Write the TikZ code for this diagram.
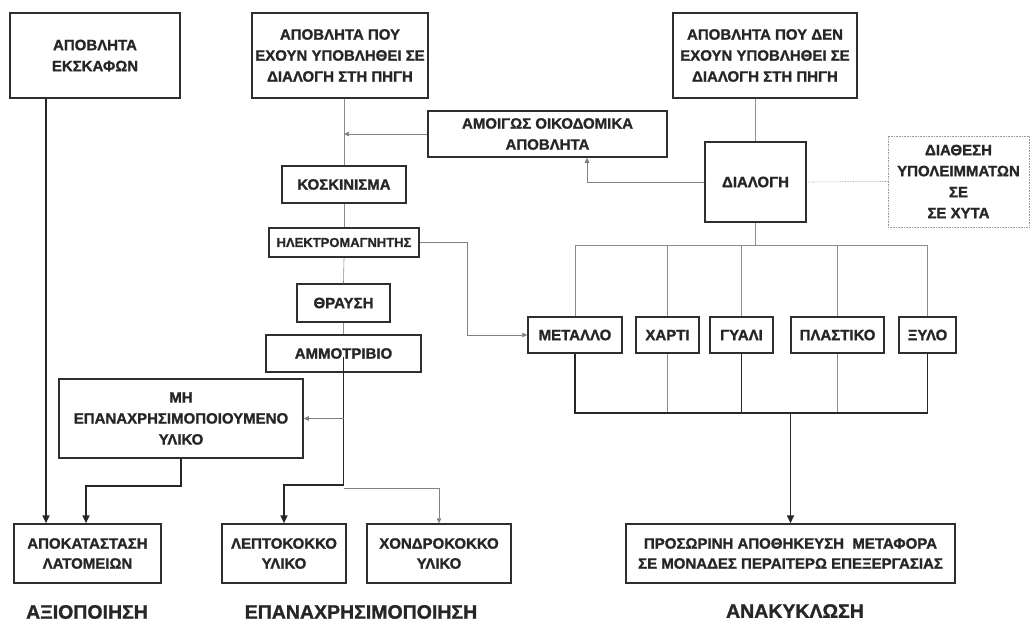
\documentclass[tikz,border=0pt]{standalone}
\usepackage{fontspec}
\setmainfont{Liberation Sans}[BoldFeatures={FakeBold=1.2}]
\usetikzlibrary{arrows.meta,calc}
\newcommand\fs{\fontsize{15}{21}\selectfont\bfseries}
\newcommand\fss{\fontsize{13}{16}\selectfont\bfseries}
\newcommand\fsb{\fontsize{15}{20}\selectfont\bfseries}
\newcommand\fl{\fontsize{19.5}{22}\selectfont\bfseries}
\tikzset{
  box/.style={draw=black!82, line width=1.5pt, inner sep=0pt, align=center, font=\fs, text=black!85},
  dim/.style 2 args={minimum width=#1, minimum height=#2},
  dotbox/.style={draw=black!40, line width=0.6pt, densely dotted, inner sep=0pt, align=center, font=\fs, text=black!85},
  lbl/.style={font=\fl, text=black!85, inner sep=0pt},
  thk/.style={line width=1.6pt, draw=black!85},
  thn/.style={line width=0.6pt, draw=black!45},
  ak/.style={-{Triangle[length=8pt,width=7pt]}},
  an/.style={-{Triangle[length=5pt,width=4.5pt]}, draw=black!50},
}
\begin{document}
\begin{tikzpicture}[x=1pt,y=-1pt]
\useasboundingbox (0,0) rectangle (1030,623);
% boxes
\node[box,dim={170pt}{85pt}] (exc) at (95,55.5) {ΑΠΟΒΛΗΤΑ\\ΕΚΣΚΑΦΩΝ};
\node[box,dim={176pt}{85pt}] (src) at (340,55.5) {ΑΠΟΒΛΗΤΑ ΠΟΥ\\ΕΧΟΥΝ ΥΠΟΒΛΗΘΕΙ ΣΕ\\ΔΙΑΛΟΓΗ ΣΤΗ ΠΗΓΗ};
\node[box,dim={184pt}{85pt}] (nosrc) at (765,55.5) {ΑΠΟΒΛΗΤΑ ΠΟΥ ΔΕΝ\\ΕΧΟΥΝ ΥΠΟΒΛΗΘΕΙ ΣΕ\\ΔΙΑΛΟΓΗ ΣΤΗ ΠΗΓΗ};
\node[box,dim={239pt}{46pt}] (amoi) at (547.5,134) {ΑΜΟΙΓΩΣ ΟΙΚΟΔΟΜΙΚΑ\\ΑΠΟΒΛΗΤΑ};
\node[box,dim={101pt}{80pt}] (dial) at (755.5,182) {ΔΙΑΛΟΓΗ};
\node[dotbox,dim={141pt}{91pt}] (diath) at (958.5,181.5) {ΔΙΑΘΕΣΗ\\ΥΠΟΛΕΙΜΜΑΤΩΝ\\ΣΕ\\ΣΕ ΧΥΤΑ};
\node[box,dim={124pt}{37pt}] (kosk) at (344,184.5) {ΚΟΣΚΙΝΙΣΜΑ};
\node[box,dim={150pt}{29pt},font=\fss] (ilek) at (344,242.5) {ΗΛΕΚΤΡΟΜΑΓΝΗΤΗΣ};
\node[box,dim={93pt}{38pt}] (thr) at (343.5,303) {ΘΡΑΥΣΗ};
\node[box,dim={155pt}{37pt}] (ammo) at (343.5,353.5) {ΑΜΜΟΤΡΙΒΙΟ};
\node[box,dim={244pt}{79pt}] (mh) at (181,418.5) {ΜΗ\\ΕΠΑΝΑΧΡΗΣΙΜΟΠΟΙΟΥΜΕΝΟ\\ΥΛΙΚΟ};
\node[box,dim={147pt}{59pt},font=\fsb] (apok) at (87.5,553.5) {ΑΠΟΚΑΤΑΣΤΑΣΗ\\ΛΑΤΟΜΕΙΩΝ};
\node[box,dim={124pt}{59pt},font=\fsb] (lept) at (284,553.5) {ΛΕΠΤΟΚΟΚΚΟ\\ΥΛΙΚΟ};
\node[box,dim={144pt}{59pt},font=\fsb] (xond) at (439,553.5) {ΧΟΝΔΡΟΚΟΚΚΟ\\ΥΛΙΚΟ};
\node[box,dim={94pt}{36pt}] (met) at (575,335) {ΜΕΤΑΛΛΟ};
\node[box,dim={63pt}{36pt}] (xar) at (667.5,335) {ΧΑΡΤΙ};
\node[box,dim={63pt}{36pt}] (gya) at (741.5,335) {ΓΥΑΛΙ};
\node[box,dim={93pt}{36pt}] (pla) at (837.5,335) {ΠΛΑΣΤΙΚΟ};
\node[box,dim={57pt}{36pt}] (xyl) at (927.5,335) {ΞΥΛΟ};
\node[box,dim={329pt}{59pt},font=\fsb] (pros) at (790.5,553.5) {ΠΡΟΣΩΡΙΝΗ ΑΠΟΘΗΚΕΥΣΗ\ \ ΜΕΤΑΦΟΡΑ\\ΣΕ ΜΟΝΑΔΕΣ ΠΕΡΑΙΤΕΡΩ ΕΠΕΞΕΡΓΑΣΙΑΣ};
% labels
\node[lbl] (axio) at (87,612) {ΑΞΙΟΠΟΙΗΣΗ};
\node[lbl] (epan) at (361,612) {ΕΠΑΝΑΧΡΗΣΙΜΟΠΟΙΗΣΗ};
\node[lbl] (anak) at (795,611) {ΑΝΑΚΥΚΛΩΣΗ};
% helper coordinates
\coordinate (j1) at (0,486);
\coordinate (j2) at (0,485);
\coordinate (j3) at (0,488);
\coordinate (j4) at (467,0);
\coordinate (j5) at (0,245);
\coordinate (j6) at (0,413);
% left column
\draw[thk,ak] ([xshift=-49pt]exc.south) -- ([xshift=-49pt]exc.south |- apok.north);
\draw[thk,ak] (mh.south) -- (mh.south |- j1) -| ([xshift=-1.5pt]apok.north);
% middle spine
\draw[thn] (src.south -| kosk.north) -- (kosk.north);
\draw[thn] (kosk.south) -- (ilek.north);
\draw[thn] (ilek.south) -- (thr.north);
\draw[thn] (thr.south) -- (ammo.north);
\draw[thn,an] (amoi.west) -- (amoi.west -| kosk.north);
\draw[thn,an] (ilek.east) -- (ilek.east -| j4) -- (j4 |- met.west) -- (met.west);
\draw[thk] ([yshift=-3.5pt]ammo.center) -- (ammo.center |- j2);
\draw[thn,an] (ammo.center |- mh.east) -- (mh.east);
\draw[thk,ak] (ammo.center |- j2) -| (lept.north);
\draw[thn,an] (ammo.center |- j3) -| (xond.north);
% right part
\draw[thn] (nosrc.south -| dial.north) -- (dial.north);
\draw[thn,an] (dial.west) -| ([xshift=39.5pt]amoi.south);
\draw[thn,densely dotted] (dial.east) -- (diath.west);
\draw[thn] (dial.south) -- (dial.south |- j5);
\draw[thn] (met.north |- j5) -- (xyl.north |- j5);
\draw[thn] (met.north |- j5) -- (met.north);
\draw[thn] (xar.north |- j5) -- (xar.north);
\draw[thn] (gya.north |- j5) -- (gya.north);
\draw[thn] (pla.north |- j5) -- (pla.north);
\draw[thn] (xyl.north |- j5) -- (xyl.north);
\draw[thn] (xar.south) -- (xar.south |- j6);
\draw[thn] (pla.south) -- (pla.south |- j6);
\draw[thk] (gya.south) -- (gya.south |- j6);
\draw[thk] (met.south) -- (met.south |- j6) -- (xyl.south |- j6) -- (xyl.south);
\draw[thk,ak] (pros.north |- j6) -- (pros.north);
\end{tikzpicture}
\end{document}
